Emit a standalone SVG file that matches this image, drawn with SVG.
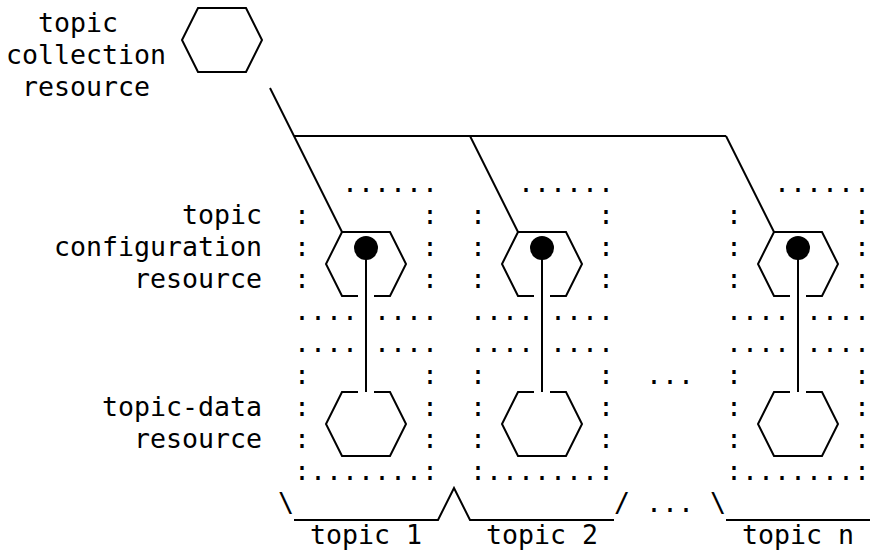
<svg xmlns="http://www.w3.org/2000/svg" width="872" height="552" viewBox="0 0 872 552">
<style>
  .t { font-family: "DejaVu Sans Mono", "Liberation Mono", monospace; font-size: 26.58px; fill: #000; white-space: pre; }
  .ln { fill: none; stroke: #000; stroke-width: 2; stroke-linecap: butt; stroke-linejoin: miter; }
  .dot { fill: #000; }
</style>
<rect width="872" height="552" fill="#fff"/>

<g id="collection">
  <text class="t" x="38" y="32">topic</text>
  <text class="t" x="6" y="64">collection</text>
  <text class="t" x="22" y="96">resource</text>
  <path class="ln" d="M198 8 H246 L262 40 L246 72 H198 L182 40 Z"/>
</g>

<g id="labels">
  <text class="t" x="182" y="224">topic</text>
  <text class="t" x="54" y="256">configuration</text>
  <text class="t" x="134" y="288">resource</text>
  <text class="t" x="102" y="416">topic-data</text>
  <text class="t" x="134" y="448">resource</text>
</g>

<g id="topic1">
  <text class="t" x="342" y="192">......</text>
  <text class="t" x="294" y="224">:</text><text class="t" x="422" y="224">:</text>
  <text class="t" x="294" y="256">:</text><text class="t" x="422" y="256">:</text>
  <text class="t" x="294" y="288">:</text><text class="t" x="422" y="288">:</text>
  <text class="t" x="294" y="320">....</text><text class="t" x="374" y="320">....</text>
  <text class="t" x="294" y="352">....</text><text class="t" x="374" y="352">....</text>
  <text class="t" x="294" y="384">:</text><text class="t" x="422" y="384">:</text>
  <text class="t" x="294" y="416">:</text><text class="t" x="422" y="416">:</text>
  <text class="t" x="294" y="448">:</text><text class="t" x="422" y="448">:</text>
  <text class="t" x="294" y="480">:.......:</text>
  <g id="topic1-config">
    <path class="ln" d="M358 296 H342 L326 264 L342 232 H390 L406 264 L390 296 H374"/>
    <circle class="dot" cx="366" cy="248" r="12"/>
  </g>
  <g id="topic1-data">
    <path class="ln" d="M358 392 H342 L326 424 L342 456 H390 L406 424 L390 392 H374"/>
  </g>
</g>

<g id="topic2">
  <text class="t" x="518" y="192">......</text>
  <text class="t" x="470" y="224">:</text><text class="t" x="598" y="224">:</text>
  <text class="t" x="470" y="256">:</text><text class="t" x="598" y="256">:</text>
  <text class="t" x="470" y="288">:</text><text class="t" x="598" y="288">:</text>
  <text class="t" x="470" y="320">....</text><text class="t" x="550" y="320">....</text>
  <text class="t" x="470" y="352">....</text><text class="t" x="550" y="352">....</text>
  <text class="t" x="470" y="384">:</text><text class="t" x="598" y="384">:</text>
  <text class="t" x="470" y="416">:</text><text class="t" x="598" y="416">:</text>
  <text class="t" x="470" y="448">:</text><text class="t" x="598" y="448">:</text>
  <text class="t" x="470" y="480">:.......:</text>
  <g id="topic2-config">
    <path class="ln" d="M534 296 H518 L502 264 L518 232 H566 L582 264 L566 296 H550"/>
    <circle class="dot" cx="542" cy="248" r="12"/>
  </g>
  <g id="topic2-data">
    <path class="ln" d="M534 392 H518 L502 424 L518 456 H566 L582 424 L566 392 H550"/>
  </g>
</g>

<g id="topicn">
  <text class="t" x="774" y="192">......</text>
  <text class="t" x="726" y="224">:</text><text class="t" x="854" y="224">:</text>
  <text class="t" x="726" y="256">:</text><text class="t" x="854" y="256">:</text>
  <text class="t" x="726" y="288">:</text><text class="t" x="854" y="288">:</text>
  <text class="t" x="726" y="320">....</text><text class="t" x="806" y="320">....</text>
  <text class="t" x="726" y="352">....</text><text class="t" x="806" y="352">....</text>
  <text class="t" x="726" y="384">:</text><text class="t" x="854" y="384">:</text>
  <text class="t" x="726" y="416">:</text><text class="t" x="854" y="416">:</text>
  <text class="t" x="726" y="448">:</text><text class="t" x="854" y="448">:</text>
  <text class="t" x="726" y="480">:.......:</text>
  <g id="topicn-config">
    <path class="ln" d="M790 296 H774 L758 264 L774 232 H822 L838 264 L822 296 H806"/>
    <circle class="dot" cx="798" cy="248" r="12"/>
  </g>
  <g id="topicn-data">
    <path class="ln" d="M790 392 H774 L758 424 L774 456 H822 L838 424 L822 392 H806"/>
  </g>
</g>

<g id="ellipsis">
  <text class="t" x="646" y="384">...</text>
</g>

<g id="connectors">
  <path class="ln" d="M270 88 L342 232"/>
  <path class="ln" d="M294 136 H726"/>
  <path class="ln" d="M470 136 L518 232"/>
  <path class="ln" d="M726 136 L774 232"/>
  <path class="ln" d="M366 248 V392"/>
  <path class="ln" d="M542 248 V392"/>
  <path class="ln" d="M798 248 V392"/>
</g>

<g id="braces">
  <text class="t" x="278" y="512">\</text>
  <path class="ln" d="M294 520 H438 L454 488 L470 520 H614"/>
  <text class="t" x="614" y="512">/</text>
  <text class="t" x="646" y="512">...</text>
  <text class="t" x="710" y="512">\</text>
  <path class="ln" d="M726 520 H870"/>
  <text class="t" x="310" y="544">topic 1</text>
  <text class="t" x="486" y="544">topic 2</text>
  <text class="t" x="742" y="544">topic n</text>
</g>
</svg>
